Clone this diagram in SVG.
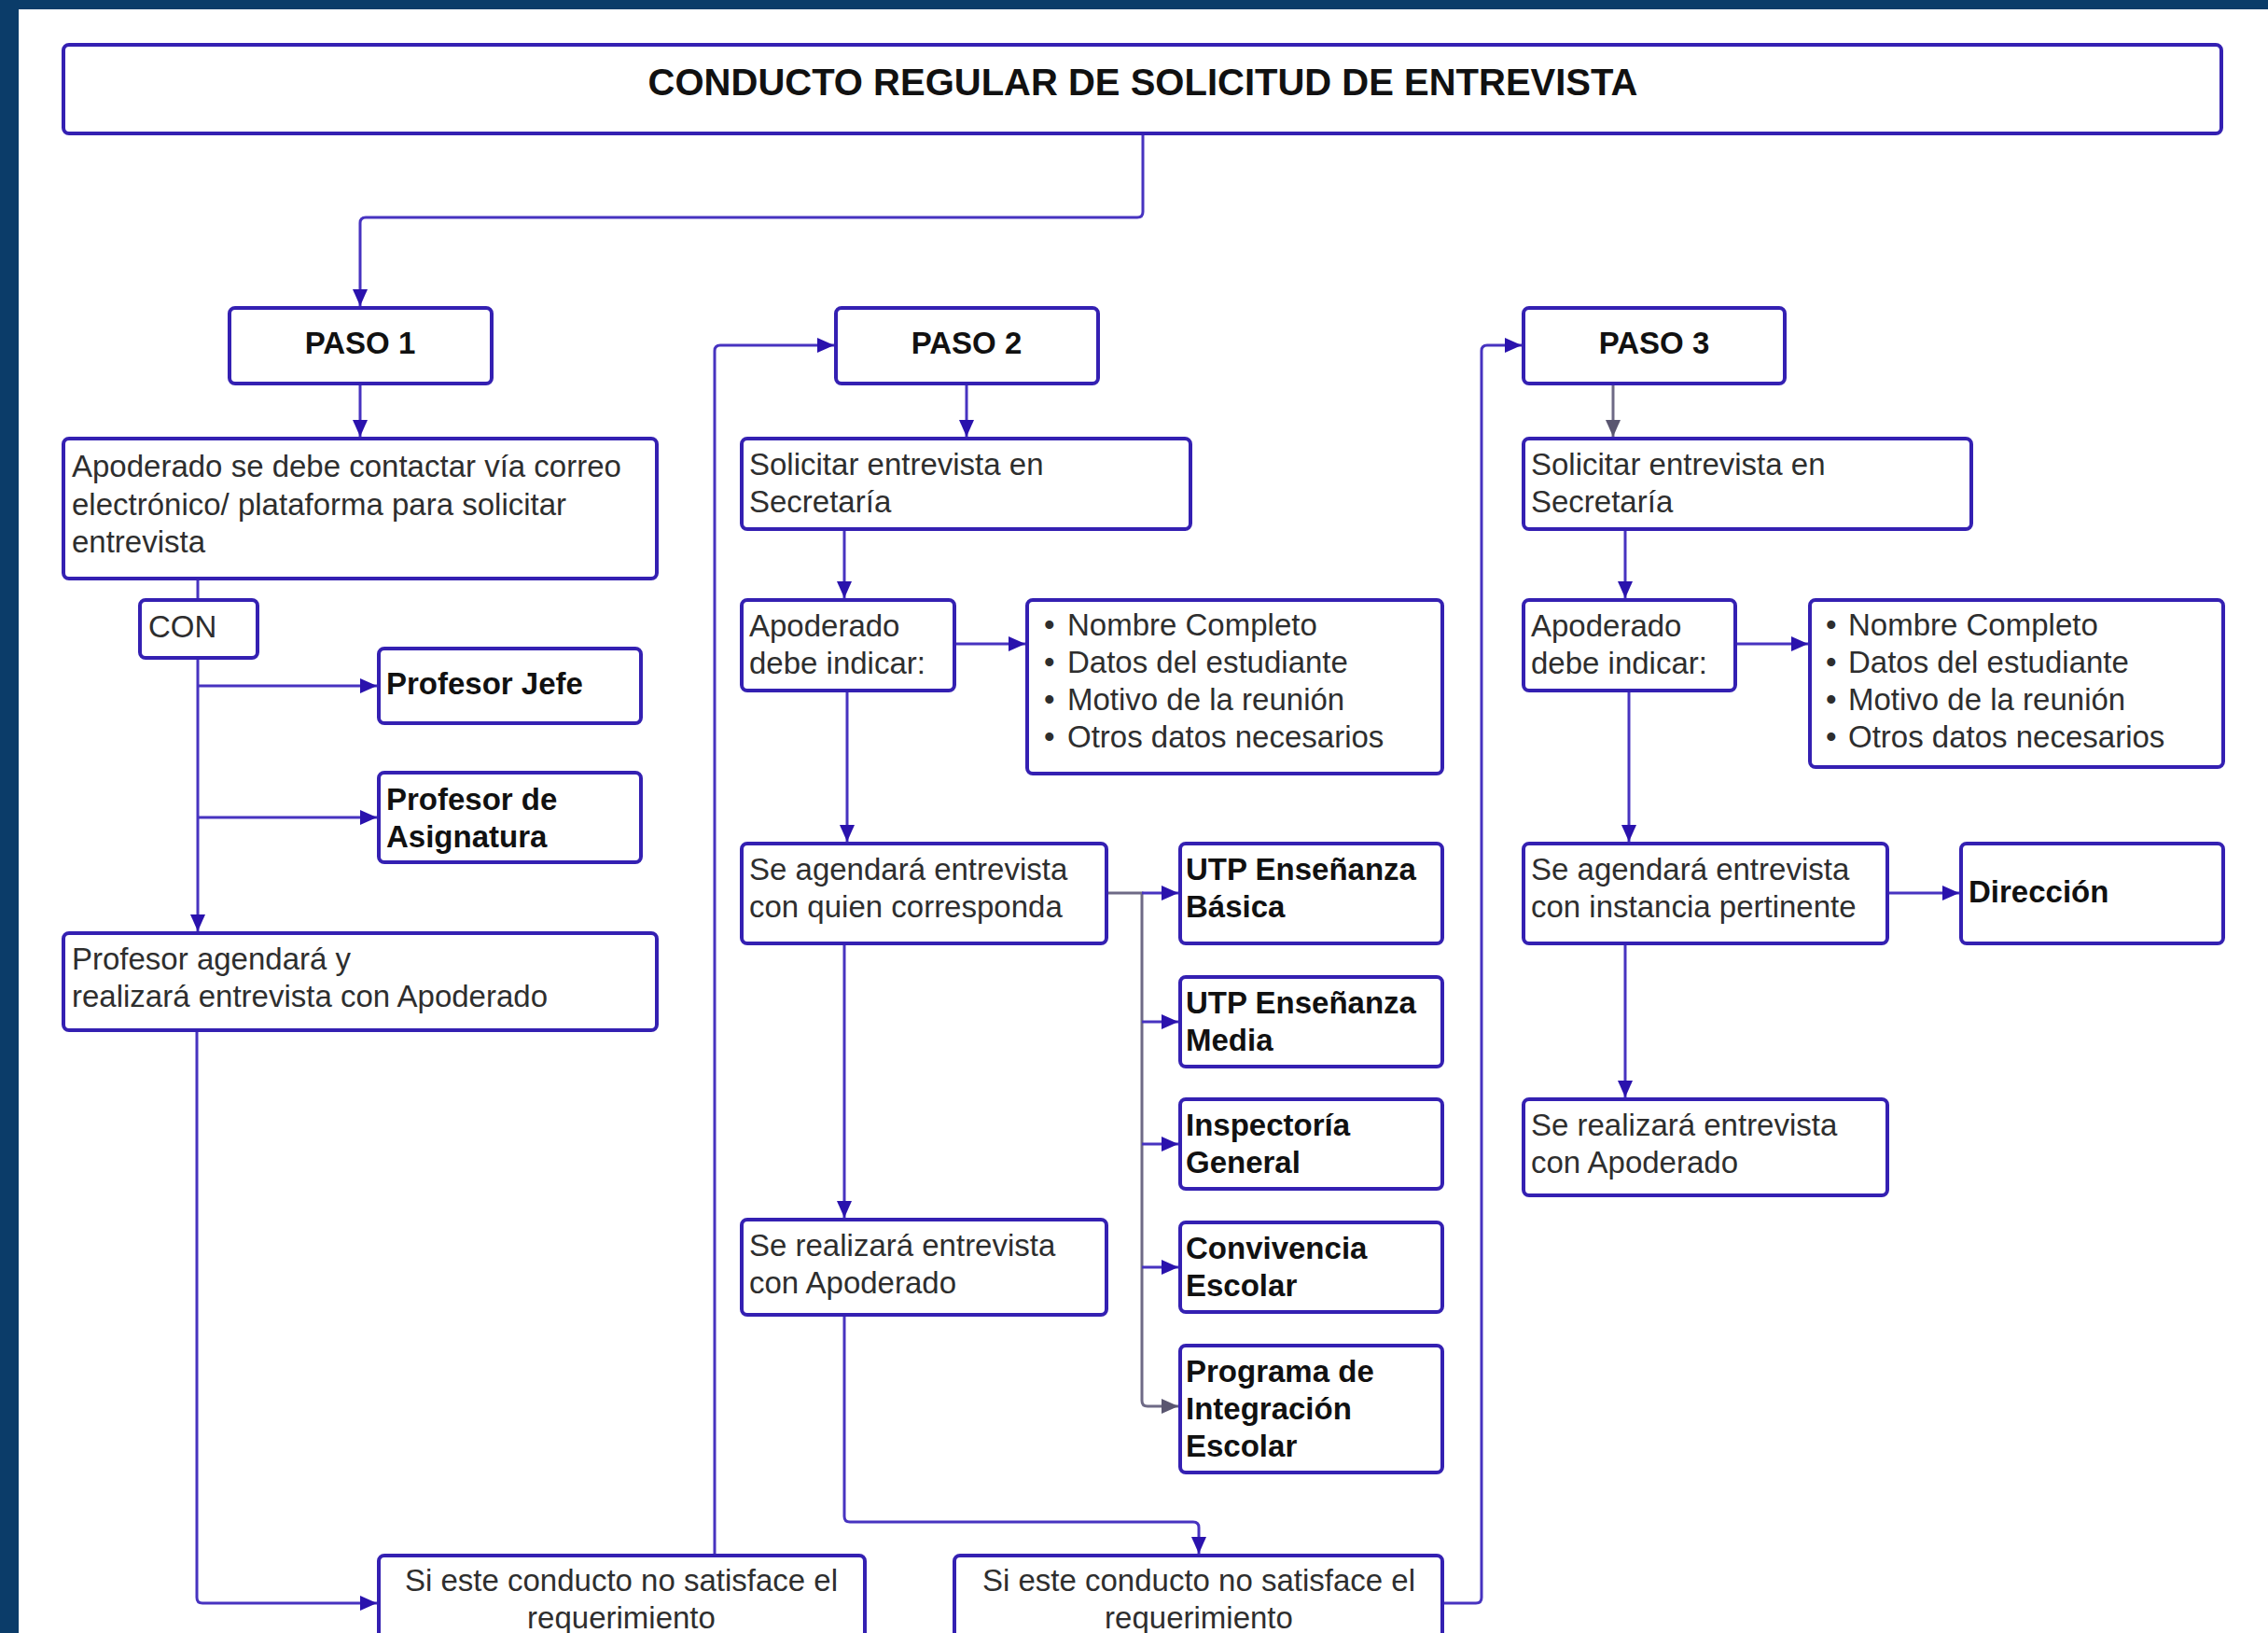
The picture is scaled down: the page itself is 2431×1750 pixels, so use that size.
<svg xmlns="http://www.w3.org/2000/svg" width="2431" height="1750" viewBox="0 0 2431 1750">
<defs>
<style>
.bx{fill:#fff;stroke:#3420b2;stroke-width:4}
.t{font-family:"Liberation Sans",Arial,sans-serif;font-size:33px;fill:#2e2e2e}
.b{font-weight:bold;fill:#111}
.ti{font-family:"Liberation Sans",Arial,sans-serif;font-size:40px;font-weight:bold;fill:#111}
.c{fill:none;stroke:#4733c0;stroke-width:3}
.g{fill:none;stroke:#6e6a86;stroke-width:3}
</style>
<marker id="a" markerUnits="userSpaceOnUse" markerWidth="18" markerHeight="16" refX="18" refY="8" orient="auto">
<path d="M0,0 L18,8 L0,16 z" fill="#2a12ad"/>
</marker>
<marker id="ag" markerUnits="userSpaceOnUse" markerWidth="18" markerHeight="16" refX="18" refY="8" orient="auto">
<path d="M0,0 L18,8 L0,16 z" fill="#5a5670"/>
</marker>
</defs>
<rect width="2431" height="1750" fill="#fff"/>
<rect x="0" y="0" width="20" height="1750" fill="#0b3c69"/>
<rect x="0" y="0" width="2431" height="10" fill="#0b3c69"/>

<g id="connectors">
<path class="c" d="M1225,143 V227 Q1225,233 1219,233 H392 Q386,233 386,239 V328" marker-end="url(#a)"/>
<path class="c" d="M386,411 V468" marker-end="url(#a)"/>
<path class="c" d="M212,620 V643"/>
<path class="c" d="M212,705 V998" marker-end="url(#a)"/>
<path class="c" d="M212,735 H404" marker-end="url(#a)"/>
<path class="c" d="M212,876 H404" marker-end="url(#a)"/>
<path class="c" d="M211,1104 V1712 Q211,1718 217,1718 H404" marker-end="url(#a)"/>
<path class="c" d="M766,1667 V376 Q766,370 772,370 H894" marker-end="url(#a)"/>
<path class="c" d="M1036,411 V468" marker-end="url(#a)"/>
<path class="c" d="M905,567 V641" marker-end="url(#a)"/>
<path class="c" d="M1023,690 H1099" marker-end="url(#a)"/>
<path class="c" d="M908,740 V902" marker-end="url(#a)"/>
<path class="g" d="M1186,957 H1224 V1501 Q1224,1507 1230,1507 H1263" marker-end="url(#ag)"/>
<path class="c" d="M1224,957 H1263" marker-end="url(#a)"/>
<path class="c" d="M1224,1095 H1263" marker-end="url(#a)"/>
<path class="c" d="M1224,1226 H1263" marker-end="url(#a)"/>
<path class="c" d="M1224,1358 H1263" marker-end="url(#a)"/>
<path class="c" d="M905,1011 V1305" marker-end="url(#a)"/>
<path class="c" d="M905,1409 V1625 Q905,1631 911,1631 H1279 Q1285,1631 1285,1637 V1665" marker-end="url(#a)"/>
<path class="c" d="M1546,1718 H1582 Q1588,1718 1588,1712 V376 Q1588,370 1594,370 H1631" marker-end="url(#a)"/>
<path class="g" d="M1729,411 V468" marker-end="url(#ag)"/>
<path class="c" d="M1742,567 V641" marker-end="url(#a)"/>
<path class="c" d="M1860,690 H1938" marker-end="url(#a)"/>
<path class="c" d="M1746,740 V902" marker-end="url(#a)"/>
<path class="c" d="M2023,957 H2100" marker-end="url(#a)"/>
<path class="c" d="M1742,1011 V1176" marker-end="url(#a)"/>
</g>

<g id="title"><rect class="bx" x="68" y="48" width="2313" height="95" rx="6"/>
<text class="ti" x="1225" y="102" text-anchor="middle">CONDUCTO REGULAR DE SOLICITUD DE ENTREVISTA</text></g>

<g id="paso1"><rect class="bx" x="246" y="330" width="281" height="81" rx="6"/>
<text class="t b" x="386" y="379" text-anchor="middle">PASO 1</text></g>
<g id="paso2"><rect class="bx" x="896" y="330" width="281" height="81" rx="6"/>
<text class="t b" x="1036" y="379" text-anchor="middle">PASO 2</text></g>
<g id="paso3"><rect class="bx" x="1633" y="330" width="280" height="81" rx="6"/>
<text class="t b" x="1773" y="379" text-anchor="middle">PASO 3</text></g>

<g id="s1-contacto"><rect class="bx" x="68" y="470" width="636" height="150" rx="6"/>
<text class="t" x="77" y="511">Apoderado se debe contactar vía correo</text>
<text class="t" x="77" y="552">electrónico/ plataforma para solicitar</text>
<text class="t" x="77" y="592">entrevista</text></g>
<g id="s1-con"><rect class="bx" x="150" y="643" width="126" height="62" rx="6"/>
<text class="t" x="159" y="683">CON</text></g>
<g id="s1-jefe"><rect class="bx" x="406" y="695" width="281" height="80" rx="6"/>
<text class="t b" x="414" y="744">Profesor Jefe</text></g>
<g id="s1-asig"><rect class="bx" x="406" y="828" width="281" height="96" rx="6"/>
<text class="t b" x="414" y="868">Profesor de</text>
<text class="t b" x="414" y="908">Asignatura</text></g>
<g id="s1-agenda"><rect class="bx" x="68" y="1000" width="636" height="104" rx="6"/>
<text class="t" x="77" y="1039">Profesor agendará y</text>
<text class="t" x="77" y="1079">realizará entrevista con Apoderado</text></g>
<g id="s1-nosatisface"><rect class="bx" x="406" y="1667" width="521" height="110" rx="6"/>
<text class="t" x="666" y="1705" text-anchor="middle">Si este conducto no satisface el</text>
<text class="t" x="666" y="1745" text-anchor="middle">requerimiento</text></g>

<g id="s2-solicitar"><rect class="bx" x="795" y="470" width="481" height="97" rx="6"/>
<text class="t" x="803" y="509">Solicitar entrevista en</text>
<text class="t" x="803" y="549">Secretaría</text></g>
<g id="s2-indicar"><rect class="bx" x="795" y="643" width="228" height="97" rx="6"/>
<text class="t" x="803" y="682">Apoderado</text>
<text class="t" x="803" y="722">debe indicar:</text></g>
<g id="s2-lista"><rect class="bx" x="1101" y="643" width="445" height="186" rx="6"/>
<text class="t" x="1119" y="681">•</text><text class="t" x="1144" y="681">Nombre Completo</text>
<text class="t" x="1119" y="721">•</text><text class="t" x="1144" y="721">Datos del estudiante</text>
<text class="t" x="1119" y="761">•</text><text class="t" x="1144" y="761">Motivo de la reunión</text>
<text class="t" x="1119" y="801">•</text><text class="t" x="1144" y="801">Otros datos necesarios</text></g>
<g id="s2-agendara"><rect class="bx" x="795" y="904" width="391" height="107" rx="6"/>
<text class="t" x="803" y="943">Se agendará entrevista</text>
<text class="t" x="803" y="983">con quien corresponda</text></g>
<g id="s2-utpb"><rect class="bx" x="1265" y="904" width="281" height="107" rx="6"/>
<text class="t b" x="1271" y="943">UTP Enseñanza</text>
<text class="t b" x="1271" y="983">Básica</text></g>
<g id="s2-utpm"><rect class="bx" x="1265" y="1047" width="281" height="96" rx="6"/>
<text class="t b" x="1271" y="1086">UTP Enseñanza</text>
<text class="t b" x="1271" y="1126">Media</text></g>
<g id="s2-insp"><rect class="bx" x="1265" y="1178" width="281" height="96" rx="6"/>
<text class="t b" x="1271" y="1217">Inspectoría</text>
<text class="t b" x="1271" y="1257">General</text></g>
<g id="s2-conv"><rect class="bx" x="1265" y="1310" width="281" height="96" rx="6"/>
<text class="t b" x="1271" y="1349">Convivencia</text>
<text class="t b" x="1271" y="1389">Escolar</text></g>
<g id="s2-pie"><rect class="bx" x="1265" y="1442" width="281" height="136" rx="6"/>
<text class="t b" x="1271" y="1481">Programa de</text>
<text class="t b" x="1271" y="1521">Integración</text>
<text class="t b" x="1271" y="1561">Escolar</text></g>
<g id="s2-realizara"><rect class="bx" x="795" y="1307" width="391" height="102" rx="6"/>
<text class="t" x="803" y="1346">Se realizará entrevista</text>
<text class="t" x="803" y="1386">con Apoderado</text></g>
<g id="s2-nosatisface"><rect class="bx" x="1023" y="1667" width="523" height="110" rx="6"/>
<text class="t" x="1285" y="1705" text-anchor="middle">Si este conducto no satisface el</text>
<text class="t" x="1285" y="1745" text-anchor="middle">requerimiento</text></g>

<g id="s3-solicitar"><rect class="bx" x="1633" y="470" width="480" height="97" rx="6"/>
<text class="t" x="1641" y="509">Solicitar entrevista en</text>
<text class="t" x="1641" y="549">Secretaría</text></g>
<g id="s3-indicar"><rect class="bx" x="1633" y="643" width="227" height="97" rx="6"/>
<text class="t" x="1641" y="682">Apoderado</text>
<text class="t" x="1641" y="722">debe indicar:</text></g>
<g id="s3-lista"><rect class="bx" x="1940" y="643" width="443" height="179" rx="6"/>
<text class="t" x="1957" y="681">•</text><text class="t" x="1981" y="681">Nombre Completo</text>
<text class="t" x="1957" y="721">•</text><text class="t" x="1981" y="721">Datos del estudiante</text>
<text class="t" x="1957" y="761">•</text><text class="t" x="1981" y="761">Motivo de la reunión</text>
<text class="t" x="1957" y="801">•</text><text class="t" x="1981" y="801">Otros datos necesarios</text></g>
<g id="s3-agendara"><rect class="bx" x="1633" y="904" width="390" height="107" rx="6"/>
<text class="t" x="1641" y="943">Se agendará entrevista</text>
<text class="t" x="1641" y="983">con instancia pertinente</text></g>
<g id="s3-direccion"><rect class="bx" x="2102" y="904" width="281" height="107" rx="6"/>
<text class="t b" x="2110" y="967">Dirección</text></g>
<g id="s3-realizara"><rect class="bx" x="1633" y="1178" width="390" height="103" rx="6"/>
<text class="t" x="1641" y="1217">Se realizará entrevista</text>
<text class="t" x="1641" y="1257">con Apoderado</text></g>
</svg>
